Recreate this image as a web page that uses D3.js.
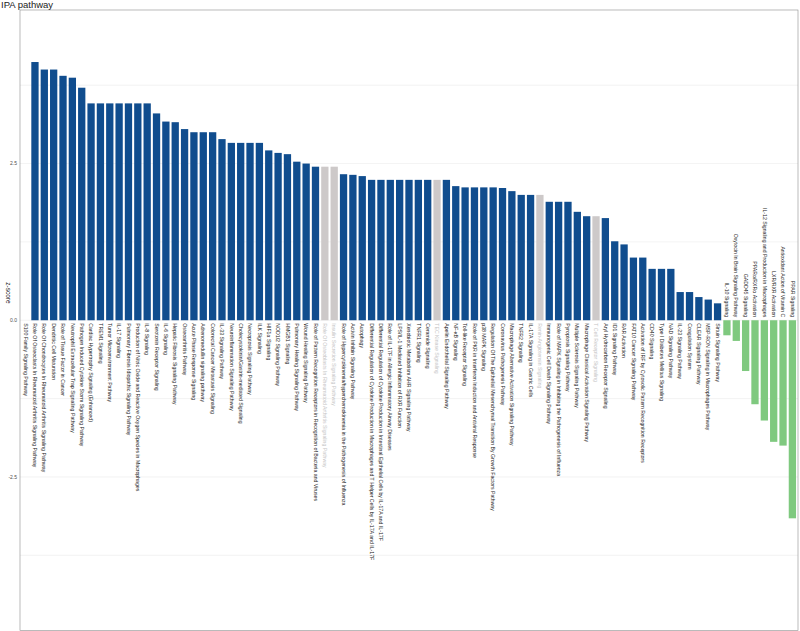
<!DOCTYPE html>
<html>
<head>
<meta charset="utf-8">
<script src="https://cdn.jsdelivr.net/npm/d3@7"></script>
<style>
  body { margin: 0; background: #fff; }
  svg { display: block; font-family: "Liberation Sans", Arial, Helvetica, sans-serif; }
</style>
</head>
<body>
<svg id="chart"></svg>
<script>
// IPA pathways, ordered as in the figure
const categories = [
  "S100 Family Signaling Pathway",
  "Role Of Osteoclasts In Rheumatoid Arthritis Signaling Pathway",
  "Role Of Chondrocytes In Rheumatoid Arthritis Signaling Pathway",
  "Dendritic Cell Maturation",
  "Role of Tissue Factor in Cancer",
  "Neutrophil Extracellular Trap Signaling Pathway",
  "Pathogen Induced Cytokine Storm Signaling Pathway",
  "Cardiac Hypertrophy Signaling (Enhanced)",
  "TREM1 Signaling",
  "Tumor Microenvironment Pathway",
  "IL-17 Signaling",
  "Pulmonary Fibrosis Idiopathic Signaling Pathway",
  "Production of Nitric Oxide and Reactive Oxygen Species in Macrophages",
  "IL-8 Signaling",
  "Serotonin Receptor Signaling",
  "IL-6 Signaling",
  "Hepatic Fibrosis Signaling Pathway",
  "Osteoarthritis Pathway",
  "Acute Phase Response Signaling",
  "Adrenomedullin signaling pathway",
  "Colorectal Cancer Metastasis Signaling",
  "IL-33 Signaling Pathway",
  "Neuroinflammation Signaling Pathway",
  "Cholecystokinin/Gastrin-mediated Signaling",
  "Necroptosis Signaling Pathway",
  "ILK Signaling",
  "HIF1α Signaling",
  "NOD1/2 Signaling Pathway",
  "HMGB1 Signaling",
  "Pulmonary Healing Signaling Pathway",
  "Wound Healing Signaling Pathway",
  "Role of Pattern Recognition Receptors in Recognition of Bacteria and Viruses",
  "Role Of Osteoblasts In Rheumatoid Arthritis Signaling Pathway",
  "Insulin Secretion Signaling Pathway",
  "Role of Hypercytokinemia/hyperchemokinemia in the Pathogenesis of Influenza",
  "Activin Inhibin Signaling Pathway",
  "Autophagy",
  "Differential Regulation of Cytokine Production in Macrophages and T Helper Cells by IL-17A and IL-17F",
  "Differential Regulation of Cytokine Production in Intestinal Epithelial Cells by IL-17A and IL-17F",
  "Role of IL-17F in Allergic Inflammatory Airway Diseases",
  "LPS/IL-1 Mediated Inhibition of RXR Function",
  "Xenobiotic Metabolism AHR Signaling Pathway",
  "TNFR1 Signaling",
  "Ceramide Signaling",
  "TEC Kinase Signaling",
  "Apelin Endothelial Signaling Pathway",
  "NF-κB Signaling",
  "Toll-like Receptor Signaling",
  "Role of PKR in Interferon Induction and Antiviral Response",
  "p38 MAPK Signaling",
  "Regulation Of The Epithelial Mesenchymal Transition By Growth Factors Pathway",
  "Coronavirus Pathogenesis Pathway",
  "Macrophage Alternative Activation Signaling Pathway",
  "TNFR2 Signaling",
  "IL-17A Signaling in Gastric Cells",
  "Renin-Angiotensin Signaling",
  "Immunogenic Cell Death Signaling Pathway",
  "Role of MAPK Signaling in Inhibiting the Pathogenesis of Influenza",
  "Pyroptosis Signaling Pathway",
  "Multiple Sclerosis Signaling Pathway",
  "Macrophage Classical Activation Signaling Pathway",
  "T Cell Receptor Signaling",
  "Aryl Hydrocarbon Receptor Signaling",
  "ID1 Signaling Pathway",
  "RAR Activation",
  "FAT10 Cancer Signaling Pathway",
  "Activation of IRF by Cytosolic Pattern Recognition Receptors",
  "CD40 Signaling",
  "Type I Diabetes Mellitus Signaling",
  "NAD Signaling Pathway",
  "IL-23 Signaling Pathway",
  "Coagulation System",
  "CLEAR Signaling Pathway",
  "MSP-RON Signaling in Macrophages Pathway",
  "Sirtuin Signaling Pathway",
  "IL-10 Signaling",
  "Oxytocin In Brain Signaling Pathway",
  "GADD45 Signaling",
  "PPARα/RXRα Activation",
  "IL-12 Signaling and Production in Macrophages",
  "LXR/RXR Activation",
  "Antioxidant Action of Vitamin C",
  "PPAR Signaling"
];

const zScores = [
  0,
  4.12, 4.00, 4.00, 3.90, 3.87, 3.71,
  3.46, 3.46, 3.46, 3.46, 3.46, 3.46, 3.46,
  3.30, 3.17, 3.16, 3.05, 3.00, 3.00, 3.00,
  2.89, 2.83, 2.83, 2.83, 2.83, 2.71, 2.67, 2.65,
  2.53, 2.50, 2.45, 2.45, 2.45,
  2.33, 2.32, 2.30,
  2.24, 2.24, 2.24, 2.24, 2.24, 2.24, 2.24, 2.24, 2.24,
  2.14, 2.12, 2.12, 2.12, 2.12, 2.11, 2.06,
  2.00, 2.00, 2.00,
  1.89, 1.89, 1.89, 1.73, 1.66, 1.66, 1.63,
  1.26, 1.21, 1.00, 1.00,
  0.82, 0.82, 0.82, 0.45, 0.45, 0.37, 0.33, 0.27,
  -0.24, -0.33, -0.81, -1.34, -1.60, -1.94, -2.00, -3.16
];

// pathways drawn in grey (no clear direction)
const greyed = [
  "Role Of Osteoblasts In Rheumatoid Arthritis Signaling Pathway",
  "Insulin Secretion Signaling Pathway",
  "TEC Kinase Signaling",
  "Renin-Angiotensin Signaling",
  "T Cell Receptor Signaling"
];

const yTicks = [-2.5, 0, 2.5];
const yTickLabels = ["-2.5", "0.0", "2.5"];
const yMinorTicks = [-3.75, -1.25, 1.25, 3.75];

const width = 800, height = 631;
const panel = { left: 20, right: 798, top: 10, bottom: 630.5 };

const data = categories.map((name, i) => ({ name, z: zScores[i], grey: greyed.includes(name) }));

const svg = d3.select("#chart")
  .attr("width", width)
  .attr("height", height);

svg.append("rect")
  .attr("width", width)
  .attr("height", height)
  .attr("fill", "#fff");

const x = d3.scaleBand()
  .domain(categories)
  .range([panel.left, panel.right])
  .paddingInner(0.22)
  .paddingOuter(0.21);

const y = d3.scaleLinear()
  .domain([-4.95, 4.95])
  .range([panel.bottom, panel.top]);

// grid
svg.append("g")
  .selectAll("line")
  .data(yMinorTicks.concat(yTicks))
  .enter()
  .append("line")
  .attr("x1", panel.left)
  .attr("x2", panel.right)
  .attr("y1", d => y(d))
  .attr("y2", d => y(d))
  .attr("stroke", "#ebebeb")
  .attr("stroke-width", 0.6);

// bars
svg.append("g")
  .selectAll("rect")
  .data(data)
  .enter()
  .append("rect")
  .attr("x", d => x(d.name))
  .attr("width", x.bandwidth())
  .attr("y", d => y(Math.max(0, d.z)))
  .attr("height", d => Math.abs(y(d.z) - y(0)))
  .attr("fill", d => d.grey ? "#cdc9c9" : (d.z >= 0 ? "#104d8e" : "#7fc97f"));

// pathway labels, reading downward, on the opposite side of zero
svg.append("g")
  .selectAll("text")
  .data(data)
  .enter()
  .append("text")
  .attr("transform", d => {
    const cx = x(d.name) + x.bandwidth() / 2;
    const ty = d.z >= 0 ? y(0) + 3 : y(0) - 3;
    return `translate(${cx}, ${ty}) rotate(90)`;
  })
  .attr("dy", "0.35em")
  .attr("text-anchor", d => d.z >= 0 ? "start" : "end")
  .attr("font-size", 5.2)
  .attr("fill", d => d.grey ? "#c4c4c4" : "#222")
  .text(d => d.name);

// panel border
svg.append("rect")
  .attr("x", panel.left)
  .attr("y", panel.top)
  .attr("width", panel.right - panel.left)
  .attr("height", panel.bottom - panel.top)
  .attr("fill", "none")
  .attr("stroke", "#8c8c8c")
  .attr("stroke-width", 0.6);

// y axis labels
svg.append("g")
  .selectAll("text")
  .data(yTicks)
  .enter()
  .append("text")
  .attr("x", panel.left - 3)
  .attr("y", d => y(d))
  .attr("dy", "0.35em")
  .attr("text-anchor", "end")
  .attr("font-size", 5)
  .attr("fill", "#4d4d4d")
  .text((d, i) => yTickLabels[i]);

svg.append("text")
  .attr("transform", `translate(6, 293) rotate(90)`)
  .attr("text-anchor", "middle")
  .attr("font-size", 6.5)
  .attr("fill", "#222")
  .text("z-score");

svg.append("text")
  .attr("x", 1)
  .attr("y", 7.5)
  .attr("font-size", 9.5)
  .attr("fill", "#222")
  .text("IPA pathway");
</script>
</body>
</html>
